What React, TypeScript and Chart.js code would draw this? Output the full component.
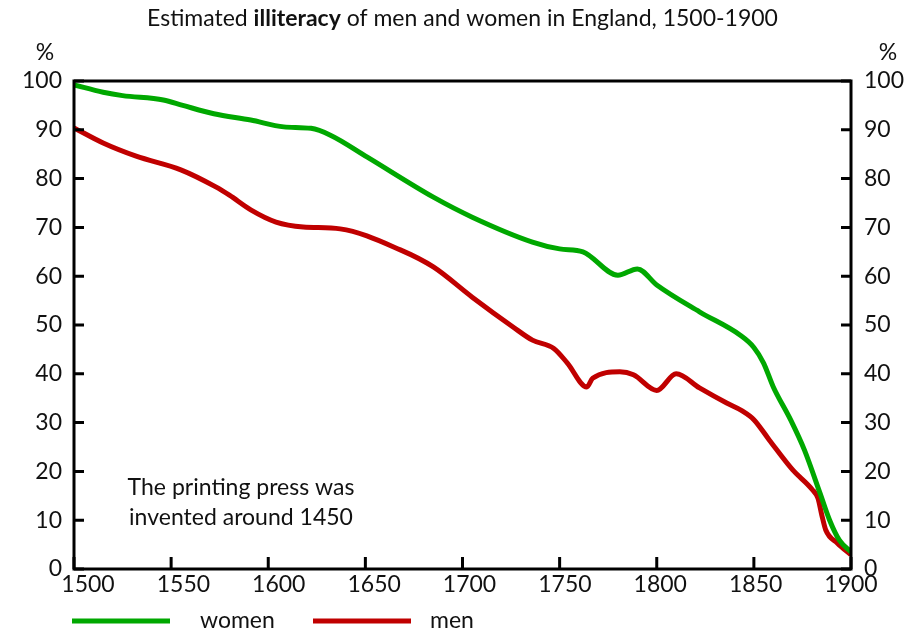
import React, { useEffect, useRef } from "react";
import { Chart, registerables } from "chart.js";
Chart.register(...registerables);

const womenYears = [1500, 1515, 1525, 1546, 1556, 1572, 1591, 1608, 1622, 1632, 1651, 1685, 1705, 1736, 1750, 1762, 1780, 1790, 1800, 1822, 1843, 1850, 1855, 1860, 1869, 1876, 1884, 1889, 1894, 1900];
const womenValues = [99.2, 97.7, 97.0, 96.1, 95.0, 93.3, 92.0, 90.6, 90.3, 88.9, 84.4, 76.2, 72.1, 67.0, 65.6, 65.0, 60.2, 61.5, 58.2, 52.7, 47.9, 45.4, 42.2, 37.3, 30.5, 24.4, 15.6, 10.0, 5.9, 3.5];

const menYears = [1500, 1515, 1532, 1555, 1573, 1580, 1591, 1604, 1618, 1637, 1668, 1685, 1705, 1726, 1736, 1747, 1754, 1764, 1767, 1781, 1788, 1800, 1810, 1822, 1836, 1844, 1850, 1858, 1870, 1880, 1883, 1885, 1887, 1893, 1900];
const menValues = [90.4, 87.3, 84.6, 81.8, 78.3, 76.6, 73.6, 71.1, 70.1, 69.7, 65.4, 61.9, 55.7, 49.6, 46.9, 45.2, 42.2, 37.3, 39.1, 40.4, 39.8, 36.6, 40.0, 37.1, 34.0, 32.4, 30.6, 26.4, 20.3, 16.3, 14.5, 11.0, 8.0, 5.3, 2.9];

const yTicks = [0, 10, 20, 30, 40, 50, 60, 70, 80, 90, 100];
const xTicks = [1500, 1550, 1600, 1650, 1700, 1750, 1800, 1850, 1900];

const titleParts = [
  { text: "Estimated ", bold: false },
  { text: "illiteracy", bold: true },
  { text: " of men and women in England, 1500-1900", bold: false },
];
const noteLines = ["The printing press was", "invented around 1450"];
const seriesNames = ["women", "men"];
const unitLabel = "%";

const FONT = "Lato, 'Open Sans', sans-serif";
const GREEN = "#00a800";
const RED = "#c00000";
const TICK_SIZE = 23;

export default function App() {
  const ref = useRef<HTMLCanvasElement>(null);
  useEffect(() => {
    const overlay = {
      id: "overlay",
      afterDraw(chart: any) {
        const { ctx, chartArea: a, scales } = chart;
        ctx.save();
        // box
        ctx.strokeStyle = "#000";
        ctx.lineWidth = 3;
        ctx.strokeRect(a.left, a.top, a.right - a.left, a.bottom - a.top);
        // inward ticks
        ctx.beginPath();
        yTicks.forEach((v) => {
          const y = scales.y.getPixelForValue(v);
          ctx.moveTo(a.left, y);
          ctx.lineTo(a.left + 10, y);
          ctx.moveTo(a.right, y);
          ctx.lineTo(a.right - 10, y);
        });
        xTicks.forEach((v) => {
          const x = scales.x.getPixelForValue(v);
          ctx.moveTo(x, a.bottom);
          ctx.lineTo(x, a.bottom - 12);
        });
        ctx.stroke();

        ctx.fillStyle = "#111";
        ctx.textBaseline = "middle";

        // x tick labels (spread slightly like the original)
        ctx.font = `${TICK_SIZE}px ${FONT}`;
        ctx.textAlign = "center";
        xTicks.forEach((v, i) => {
          const x = scales.x.getPixelForValue(v) + 14 * (1 - i / (xTicks.length - 1));
          ctx.fillText(String(v), x, a.bottom + 16);
        });

        // title, fitted to the original width
        let base = 0;
        titleParts.forEach((p) => {
          ctx.font = `${p.bold ? "bold " : ""}20px ${FONT}`;
          base += ctx.measureText(p.text).width;
        });
        const tSize = (20 * 631) / base;
        const fontOf = (b: boolean) => `${b ? "bold " : ""}${tSize}px ${FONT}`;
        let total = 0;
        titleParts.forEach((p) => {
          ctx.font = fontOf(p.bold);
          total += ctx.measureText(p.text).width;
        });
        let tx = 462.5 - total / 2;
        ctx.textAlign = "left";
        titleParts.forEach((p) => {
          ctx.font = fontOf(p.bold);
          ctx.fillText(p.text, tx, 19);
          tx += ctx.measureText(p.text).width;
        });

        // % labels
        ctx.font = `${TICK_SIZE}px ${FONT}`;
        ctx.textAlign = "center";
        ctx.fillText(unitLabel, 45, 53);
        ctx.fillText(unitLabel, 888, 53);

        // note, fitted to the original width
        ctx.font = `20px ${FONT}`;
        const nSize = (20 * 227) / ctx.measureText(noteLines[0]).width;
        ctx.font = `${nSize}px ${FONT}`;
        ctx.fillText(noteLines[0], 241, 488);
        ctx.fillText(noteLines[1], 241, 518);

        // legend
        ctx.lineWidth = 5;
        ctx.strokeStyle = GREEN;
        ctx.beginPath();
        ctx.moveTo(72, 621);
        ctx.lineTo(170, 621);
        ctx.stroke();
        ctx.strokeStyle = RED;
        ctx.beginPath();
        ctx.moveTo(313, 621);
        ctx.lineTo(411, 621);
        ctx.stroke();
        ctx.font = `${TICK_SIZE}px ${FONT}`;
        ctx.textAlign = "left";
        ctx.fillText(seriesNames[0], 200, 621);
        ctx.fillText(seriesNames[1], 430, 621);
        ctx.restore();
      },
    };

    const chart = new Chart(ref.current!, {
      type: "line",
      data: {
        datasets: [
          {
            label: seriesNames[0],
            data: womenYears.map((x, i) => ({ x, y: womenValues[i] })),
            borderColor: GREEN,
            borderWidth: 5,
            pointRadius: 0,
            cubicInterpolationMode: "monotone",
            fill: false,
          },
          {
            label: seriesNames[1],
            data: menYears.map((x, i) => ({ x, y: menValues[i] })),
            borderColor: RED,
            borderWidth: 5,
            pointRadius: 0,
            cubicInterpolationMode: "monotone",
            fill: false,
          },
        ],
      },
      options: {
        animation: false,
        responsive: true,
        maintainAspectRatio: false,
        layout: { padding: { top: 81, left: 0, right: 0, bottom: 0 } },
        plugins: { legend: { display: false }, title: { display: false }, tooltip: { enabled: false } },
        scales: {
          x: {
            type: "linear",
            min: 1500,
            max: 1900,
            grid: { display: false, drawTicks: false },
            border: { display: false },
            ticks: { display: false, stepSize: 50 },
            afterFit: (s: any) => { s.height = 64; },
          },
          y: {
            position: "left",
            min: 0,
            max: 100,
            grid: { display: false, drawTicks: false },
            border: { display: false },
            ticks: { stepSize: 10, padding: 12, color: "#111", font: { family: FONT, size: TICK_SIZE } },
            afterFit: (s: any) => { s.width = 74; },
          },
          y2: {
            position: "right",
            min: 0,
            max: 100,
            grid: { display: false, drawTicks: false },
            border: { display: false },
            ticks: { stepSize: 10, padding: 13, color: "#111", font: { family: FONT, size: TICK_SIZE } },
            afterFit: (s: any) => { s.width = 70; },
          },
        },
      } as any,
      plugins: [overlay],
    });
    return () => chart.destroy();
  }, []);

  return (
    <div style={{ position: "absolute", left: 0, top: 0, width: 921, height: 633, background: "#fff" }}>
      <canvas ref={ref} />
    </div>
  );
}
